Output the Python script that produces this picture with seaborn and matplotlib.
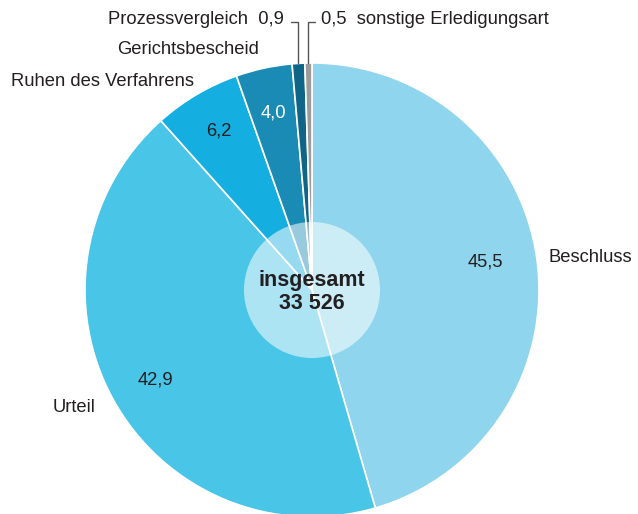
import matplotlib
matplotlib.use('Agg')
import matplotlib.pyplot as plt
import seaborn as sns

# Data
categories = ['Beschluss', 'Urteil', 'Ruhen des Verfahrens', 'Gerichtsbescheid',
              'Prozessvergleich', 'sonstige Erledigungsart']
shares = [45.5, 42.9, 6.2, 4.0, 0.9, 0.5]
value_labels = ['45,5', '42,9', '6,2', '4,0', '0,9', '0,5']
total_label = 'insgesamt\n33 526'
colors = ['#8fd5ed', '#49c5e8', '#15aee0', '#1a8bb4', '#0f6587', '#9b9b9b']

sns.set_theme(style='white')
plt.rcParams['font.family'] = ['Liberation Sans', 'DejaVu Sans']

W, H = 638, 514
fig = plt.figure(figsize=(W / 100, H / 100), dpi=100)
ax = fig.add_axes([0, 0, 1, 1])

cx, cy, r = 312, H - 290, 227
txt = '#231f20'

wedges, _ = ax.pie(shares, colors=colors, startangle=90, counterclock=False,
                   center=(cx, cy), radius=r, frame=True,
                   wedgeprops=dict(edgecolor='white', linewidth=1.2))
ax.set_xlim(0, W)
ax.set_ylim(0, H)
ax.set_aspect('equal')
ax.axis('off')

# inner circle
ax.add_patch(plt.Circle((cx, cy), 68, color='white', alpha=0.55, lw=0, zorder=5))
ax.text(cx, H - 292, total_label, ha='center', va='center', fontsize=15.5,
        fontweight='bold', color=txt, linespacing=1.15, zorder=6)

fs = 13.2
# values inside slices
ax.text(485, H - 262, value_labels[0], ha='center', va='center', fontsize=fs, color=txt)
ax.text(155, H - 380, value_labels[1], ha='center', va='center', fontsize=fs, color=txt)
ax.text(219, H - 131, value_labels[2], ha='center', va='center', fontsize=fs, color=txt)
ax.text(273, H - 113, value_labels[3], ha='center', va='center', fontsize=fs, color='white')

# outside labels
ax.text(549, H - 258, categories[0], ha='left', va='center', fontsize=fs, color=txt)
ax.text(53, H - 408, categories[1], ha='left', va='center', fontsize=fs, color=txt)
ax.text(11, H - 82, categories[2], ha='left', va='center', fontsize=fs, color=txt)
ax.text(117, H - 50, categories[3], ha='left', va='center', fontsize=fs, color=txt)
ax.text(284, H - 20, categories[4] + '  ' + value_labels[4], ha='right', va='center',
        fontsize=fs, color=txt)
ax.text(321, H - 20, value_labels[5] + '  ' + categories[5], ha='left', va='center',
        fontsize=fs, color=txt)

# leader lines
ax.plot([291, 297.5, 297.5], [H - 21.5, H - 21.5, H - 63], color='#555555', lw=1)
ax.plot([315, 307.5, 307.5], [H - 21.5, H - 21.5, H - 63], color='#555555', lw=1)

fig.savefig('out.png', dpi=100)
